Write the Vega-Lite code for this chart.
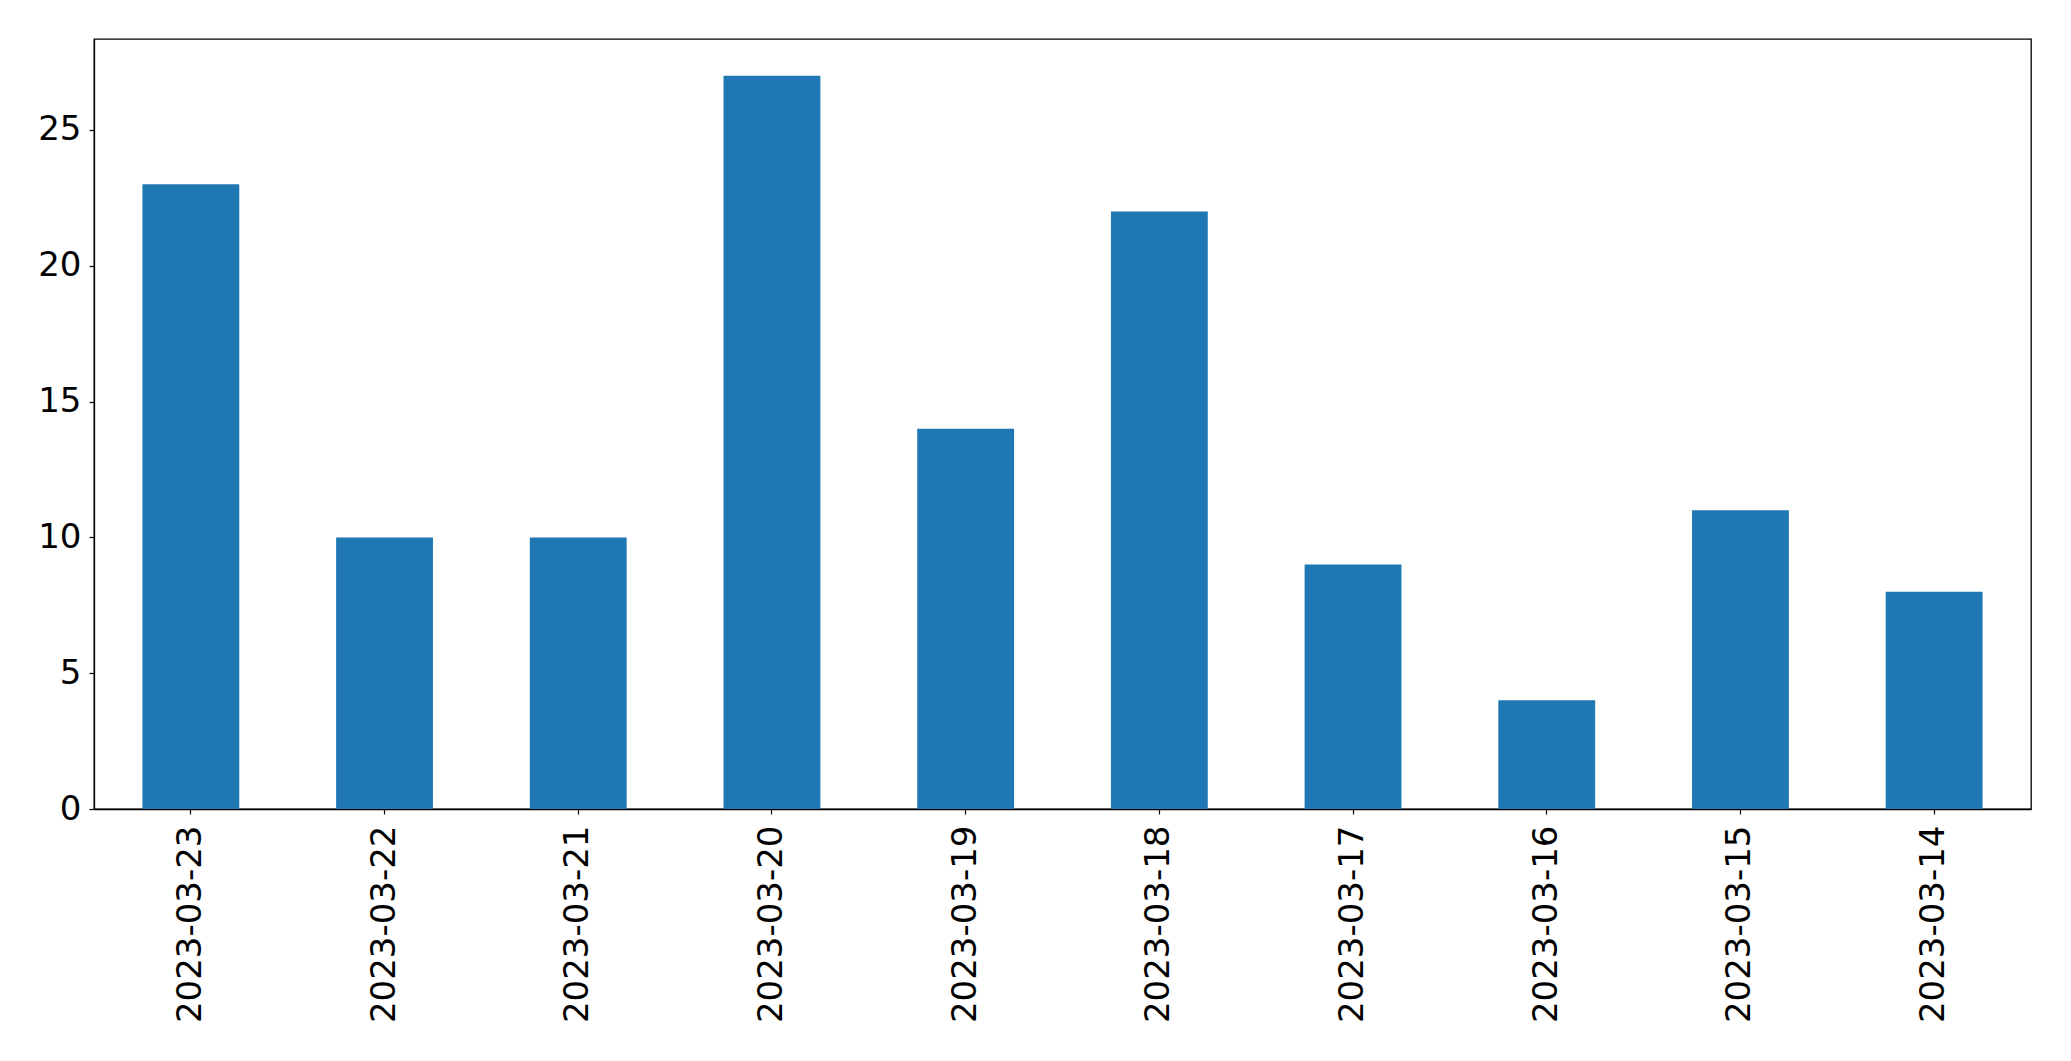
{
  "$schema": "https://vega.github.io/schema/vega-lite/v6.json",
  "width": 1937,
  "height": 770,
  "autosize": {"type": "none"},
  "padding": {"left": 94, "top": 39, "right": 40, "bottom": 252},
  "background": "white",
  "config": {
    "view": {"stroke": "black", "strokeWidth": 1.3},
    "font": "DejaVu Sans"
  },
  "data": {
    "values": [
      {"date": "2023-03-23", "count": 23},
      {"date": "2023-03-22", "count": 10},
      {"date": "2023-03-21", "count": 10},
      {"date": "2023-03-20", "count": 27},
      {"date": "2023-03-19", "count": 14},
      {"date": "2023-03-18", "count": 22},
      {"date": "2023-03-17", "count": 9},
      {"date": "2023-03-16", "count": 4},
      {"date": "2023-03-15", "count": 11},
      {"date": "2023-03-14", "count": 8}
    ]
  },
  "mark": {"type": "bar", "color": "#1f77b4"},
  "encoding": {
    "x": {
      "field": "date",
      "type": "nominal",
      "sort": null,
      "scale": {"paddingInner": 0.5, "paddingOuter": 0.25},
      "axis": {
        "title": null,
        "labelAngle": -90,
        "labelAlign": "right",
        "labelBaseline": "middle",
        "labelFont": "DejaVu Sans",
        "labelFontSize": 34,
        "labelLimit": 0,
        "labelColor": "black",
        "labelPadding": 11,
        "tickColor": "black",
        "tickSize": 5,
        "tickWidth": 1.2,
        "domainColor": "black",
        "domainWidth": 1.3,
        "grid": false
      }
    },
    "y": {
      "field": "count",
      "type": "quantitative",
      "scale": {"domain": [0, 28.35], "nice": false, "zero": true},
      "axis": {
        "title": null,
        "values": [0, 5, 10, 15, 20, 25],
        "labelFont": "DejaVu Sans",
        "labelFontSize": 34,
        "labelColor": "black",
        "labelPadding": 8,
        "tickColor": "black",
        "tickSize": 5,
        "tickWidth": 1.2,
        "domainColor": "black",
        "domainWidth": 1.3,
        "grid": false
      }
    }
  }
}
